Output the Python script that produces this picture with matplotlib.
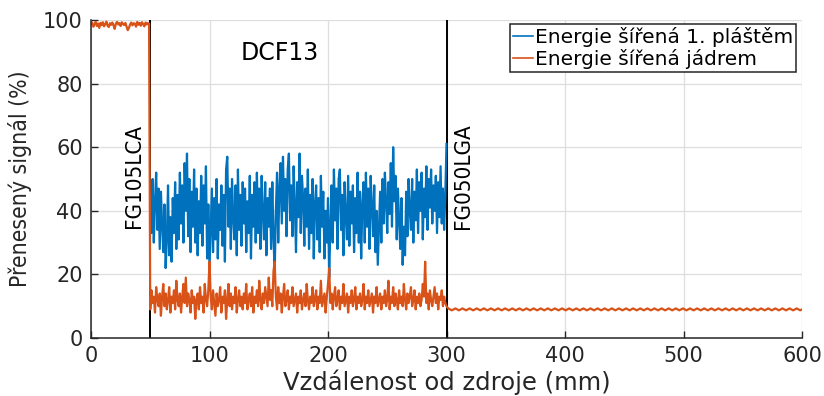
import numpy as np
import matplotlib
matplotlib.use("Agg")
import matplotlib.pyplot as plt
from matplotlib import font_manager

# --- data ------------------------------------------------------------------
blue_x = np.arange(50, 301)  # 1 mm steps, 50..300
blue_y = [
    45, 33, 50, 30, 43, 52, 34, 47, 28, 46,
    36, 27, 42, 22, 31, 48, 26, 38, 24, 44,
    33, 49, 28, 45, 31, 52, 36, 48, 30, 55,
    40, 58, 32, 50, 27, 46, 35, 53, 30, 47,
    26, 43, 33, 51, 29, 48, 36, 54, 25, 42,
    22, 35, 47, 27, 44, 31, 50, 25, 42, 34,
    48, 29, 45, 24, 53, 57, 35, 47, 28, 50,
    38, 31, 48, 26, 53, 34, 45, 29, 49, 36,
    47, 27, 43, 33, 51, 25, 45, 35, 49, 30,
    52, 33, 47, 28, 51, 39, 31, 49, 26, 44,
    35, 47, 28, 49, 32, 20, 40, 52, 30, 47,
    55, 36, 57, 40, 50, 32, 53, 58, 37, 48,
    32, 54, 42, 27, 49, 38, 58, 33, 51, 44,
    29, 47, 35, 53, 28, 45, 33, 50, 25, 42,
    48, 31, 44, 27, 51, 35, 46, 25, 40, 30,
    44, 19, 35, 48, 30, 53, 37, 47, 28, 50,
    53, 34, 45, 26, 49, 38, 31, 51, 29, 46,
    36, 48, 27, 44, 33, 52, 30, 46, 25, 42,
    49, 30, 52, 35, 47, 28, 51, 41, 32, 48,
    27, 40, 23, 34, 46, 30, 50, 36, 52, 43,
    33, 49, 39, 55, 35, 60, 43, 51, 31, 47,
    37, 28, 44, 23, 35, 26, 46, 32, 50, 40,
    34, 50, 30, 46, 37, 53, 33, 49, 40, 52,
    31, 47, 38, 54, 34, 50, 41, 53, 36, 48,
    40, 51, 33, 49, 38, 54, 36, 47, 34, 45,
    61,
]

core_x_in = np.arange(0, 50)  # before the DCF13 fibre
core_y_in = [
    98.8, 99.2, 97.9, 98.6, 99.4, 98.1, 98.9, 97.5, 99.1, 98.4,
    99.3, 98.0, 98.7, 99.5, 98.2, 97.8, 99.0, 98.5, 99.2, 98.3,
    97.2, 98.9, 99.4, 98.6, 99.0, 98.1, 99.3, 98.7, 98.4, 99.1,
    98.0, 96.8, 97.5, 98.6, 99.2, 98.3, 99.0, 98.8, 97.9, 99.4,
    98.5, 99.1, 98.2, 99.3, 98.7, 98.0, 99.2, 98.6, 99.0, 98.9,
]

core_x_dcf = np.arange(50, 301)
core_y_dcf = [
    9, 15, 11, 13, 8, 16, 12, 10, 14, 7,
    13, 17, 10, 14, 9, 12, 16, 8, 13, 11,
    15, 9, 18, 12, 10, 14, 8, 13, 17, 11,
    19, 10, 14, 12, 8, 15, 11, 13, 6, 12,
    14, 9, 16, 11, 13, 8, 17, 12, 10, 15,
    24, 13, 9, 15, 11, 7, 14, 10, 12, 16,
    8, 13, 11, 15, 6, 12, 17, 10, 14, 9,
    13, 11, 16, 8, 12, 15, 10, 13, 9, 14,
    11, 17, 9, 12, 14, 10, 16, 8, 13, 11,
    15, 10, 18, 12, 9, 14, 11, 16, 13, 10,
    19, 12, 15, 10, 21, 24, 13, 9, 16, 11,
    14, 8, 13, 17, 10, 12, 15, 9, 13, 11,
    16, 10, 12, 14, 8, 13, 11, 15, 9, 12,
    14, 10, 17, 12, 9, 13, 11, 16, 10, 12,
    15, 9, 13, 11, 18, 10, 12, 14, 8, 13,
    17, 22, 11, 14, 9, 13, 16, 10, 12, 15,
    9, 13, 11, 17, 10, 12, 14, 8, 13, 11,
    15, 10, 12, 16, 9, 13, 11, 14, 10, 12,
    17, 9, 13, 11, 15, 10, 12, 14, 8, 13,
    11, 16, 10, 12, 14, 9, 13, 11, 15, 10,
    12, 18, 9, 13, 11, 16, 10, 14, 12, 9,
    15, 11, 13, 10, 17, 12, 9, 14, 11, 13,
    16, 10, 12, 15, 9, 13, 11, 14, 10, 12,
    17, 13, 24, 11, 14, 9, 15, 12, 10, 13,
    16, 11, 14, 9, 13, 12, 15, 10, 13, 11,
    10,
]

core_x_out = 300 + 1.5 * np.arange(1, 201)  # after FG050LGA
core_y_out = [
    9.3, 9.0, 8.7, 9.0, 9.3, 9.0, 8.7, 9.0, 9.3, 9.0, 8.7, 9.0, 9.3, 9.0, 8.7, 9.0, 9.3, 9.0, 8.7, 9.0,
    9.3, 9.0, 8.7, 9.0, 9.3, 9.0, 8.7, 9.0, 9.3, 9.0, 8.7, 9.0, 9.3, 9.0, 8.7, 9.0, 9.3, 9.0, 8.7, 9.0,
    9.3, 9.0, 8.7, 9.0, 9.3, 9.0, 8.7, 9.0, 9.3, 9.0, 8.7, 9.0, 9.3, 9.0, 8.7, 9.0, 9.3, 9.0, 8.7, 9.0,
    9.3, 9.0, 8.7, 9.0, 9.3, 9.0, 8.7, 9.0, 9.3, 9.0, 8.7, 9.0, 9.3, 9.0, 8.7, 9.0, 9.3, 9.0, 8.7, 9.0,
    9.3, 9.0, 8.7, 9.0, 9.3, 9.0, 8.7, 9.0, 9.3, 9.0, 8.7, 9.0, 9.3, 9.0, 8.7, 9.0, 9.3, 9.0, 8.7, 9.0,
    9.3, 9.0, 8.7, 9.0, 9.3, 9.0, 8.7, 9.0, 9.3, 9.0, 8.7, 9.0, 9.3, 9.0, 8.7, 9.0, 9.3, 9.0, 8.7, 9.0,
    9.3, 9.0, 8.7, 9.0, 9.3, 9.0, 8.7, 9.0, 9.3, 9.0, 8.7, 9.0, 9.3, 9.0, 8.7, 9.0, 9.3, 9.0, 8.7, 9.0,
    9.3, 9.0, 8.7, 9.0, 9.3, 9.0, 8.7, 9.0, 9.3, 9.0, 8.7, 9.0, 9.3, 9.0, 8.7, 9.0, 9.3, 9.0, 8.7, 9.0,
    9.3, 9.0, 8.7, 9.0, 9.3, 9.0, 8.7, 9.0, 9.3, 9.0, 8.7, 9.0, 9.3, 9.0, 8.7, 9.0, 9.3, 9.0, 8.7, 9.0,
    9.3, 9.0, 8.7, 9.0, 9.3, 9.0, 8.7, 9.0, 9.3, 9.0, 8.7, 9.0, 9.3, 9.0, 8.7, 9.0, 9.3, 9.0, 8.7, 9.0,
]

splices = [50, 300]
splice_labels = ["FG105LCA", "FG050LGA"]
xticks = [0, 100, 200, 300, 400, 500, 600]
yticks = [0, 20, 40, 60, 80, 100]


def narrow_font():
    # rotated text in the reference looks narrow; use a condensed face if there is one
    for fam in ["Liberation Sans Narrow", "DejaVu Sans", "Roboto", "Open Sans", "Noto Sans"]:
        fp = font_manager.FontProperties(family=fam, stretch="condensed")
        try:
            path = font_manager.findfont(fp, fallback_to_default=False)
        except ValueError:
            continue
        low = path.lower()
        if "narrow" in low or "condensed" in low:
            return fp
    return None


cond = narrow_font()
if cond is not None:
    rot_props = dict(fontproperties=cond)
    rot_size, ylab_size = 16, 16.5
else:
    rot_props = dict(family="Liberation Sans")
    rot_size, ylab_size = 14.5, 15.5

plt.rcParams["font.family"] = ["DejaVu Sans"]
dark = "#262626"
blue = "#0072BD"
orange = "#D95319"

fig = plt.figure(figsize=(8.24, 3.96), dpi=100)
ax = fig.add_axes([91 / 824, 1 - 338 / 396, 711 / 824, 318 / 396])

core_x = np.concatenate([core_x_in, core_x_dcf, core_x_out])
core_y = np.concatenate([core_y_in, core_y_dcf, core_y_out])

for s in splices:
    ax.axvline(s, color="black", lw=1.4, zorder=1.8)

ax.plot(blue_x, blue_y, color=blue, lw=1.6, label="Energie šířená 1. pláštěm", zorder=2)
ax.plot(core_x, core_y, color=orange, lw=1.6, label="Energie šířená jádrem", zorder=2.1)

ax.set_xlim(0, 600)
ax.set_ylim(0, 100)
ax.set_xticks(xticks)
ax.set_yticks(yticks)
ax.grid(True, color="#dedede", lw=0.9)
ax.set_axisbelow(True)
for side in ["top", "right"]:
    ax.spines[side].set_visible(False)
for side in ["left", "bottom"]:
    ax.spines[side].set_color(dark)
    ax.spines[side].set_linewidth(1.1)
ax.tick_params(direction="in", length=5, width=1, colors=dark, labelsize=15, pad=6)

ax.set_xlabel("Vzdálenost od zdroje (mm)", fontsize=17.5, color=dark, labelpad=2)
ylab = ax.set_ylabel("Přenesený signál (%)", color=dark, labelpad=8, **rot_props)
ylab.set_fontsize(ylab_size)

label_x = [36.3, 314.3]
for lx, txt in zip(label_x, splice_labels):
    t = ax.text(lx, 51, txt, rotation=90, ha="center", va="center",
                color="black", **rot_props)
    t.set_fontsize(rot_size)
ax.text(159, 89.6, "DCF13", ha="center", va="center", fontsize=17, color="black")

leg = ax.legend(loc="upper right", bbox_to_anchor=((796 - 91) / 711, (338 - 24) / 318),
                fontsize=14.5, frameon=True, fancybox=False, framealpha=1,
                edgecolor=dark, borderpad=0.15, labelspacing=0.12,
                handlelength=1.0, handletextpad=0.1, borderaxespad=0)
leg.get_frame().set_linewidth(1.1)
for h in leg.get_lines():
    h.set_linewidth(1.2)

fig.savefig("out.png", dpi=100)
